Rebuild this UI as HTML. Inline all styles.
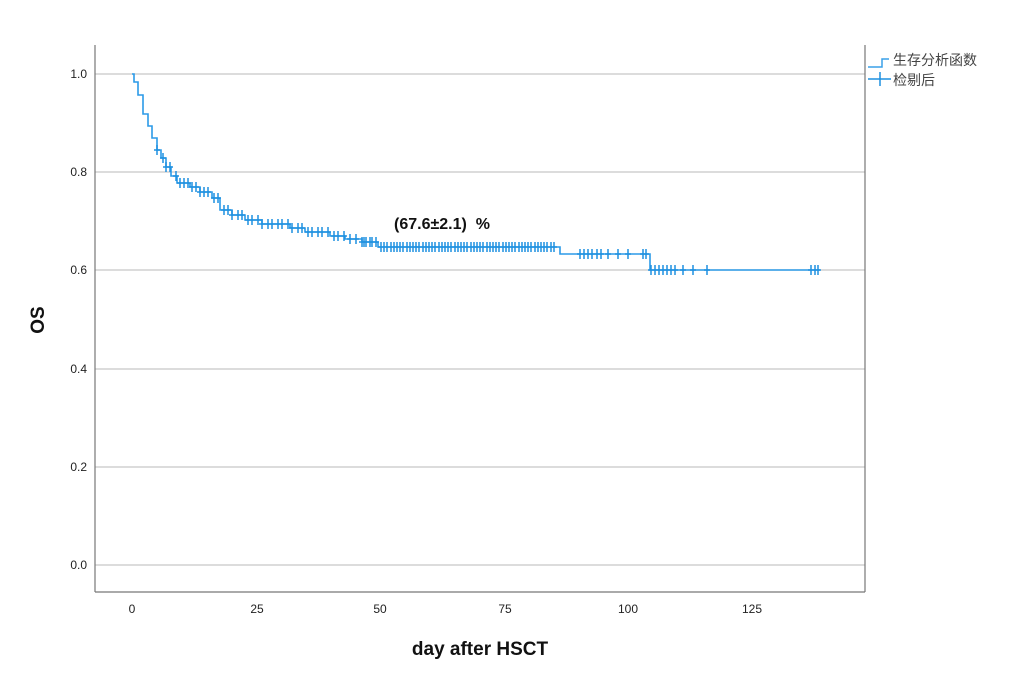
<!DOCTYPE html>
<html><head><meta charset="utf-8"><style>
body{margin:0;background:#fff;width:1024px;height:674px;overflow:hidden}
svg text{font-family:"Liberation Sans","Noto Sans CJK SC",sans-serif}
</style></head><body>
<svg id="s" width="1024" height="674" xmlns="http://www.w3.org/2000/svg">
<g stroke="#c8c8c8" stroke-width="1.3">
<line x1="95" y1="74" x2="865" y2="74"/><line x1="95" y1="172" x2="865" y2="172"/>
<line x1="95" y1="270" x2="865" y2="270"/><line x1="95" y1="369" x2="865" y2="369"/>
<line x1="95" y1="467" x2="865" y2="467"/><line x1="95" y1="565" x2="865" y2="565"/>
</g>
<g stroke="#777" stroke-width="1.2" fill="none">
<line x1="95" y1="45" x2="95" y2="592"/><line x1="95" y1="592" x2="865" y2="592"/><line x1="865" y1="45" x2="865" y2="592"/>
</g>
<g font-size="12" fill="#222" text-anchor="end">
<text x="87" y="78">1.0</text><text x="87" y="176">0.8</text><text x="87" y="274">0.6</text>
<text x="87" y="373">0.4</text><text x="87" y="471">0.2</text><text x="87" y="569">0.0</text>
</g>
<g font-size="12" fill="#222" text-anchor="middle">
<text x="132" y="613">0</text><text x="257" y="613">25</text><text x="380" y="613">50</text>
<text x="505" y="613">75</text><text x="628" y="613">100</text><text x="752" y="613">125</text>
</g>
<text x="480" y="655" font-size="19" font-weight="bold" text-anchor="middle" fill="#111">day after HSCT</text>
<text x="0" y="0" font-size="19" font-weight="bold" text-anchor="middle" fill="#111" transform="translate(44,320) rotate(-90)">OS</text>
<text x="394" y="229" font-size="16" font-weight="bold" fill="#111" xml:space="preserve">(67.6±2.1)  %</text>
<path d="M868 67H882V59H889" stroke="#3aa0e8" fill="none" stroke-width="1.5"/>
<path d="M868 79H891M880 72V86" stroke="#1e90e0" fill="none" stroke-width="1.5"/>
<text x="893" y="65" font-size="14" fill="#444">生存分析函数</text>
<text x="893" y="85" font-size="14" fill="#444">检剔后</text>
<g id="c"></g>
</svg>
<script>
var st=[[132,74],[134,82],[138,95],[143,114],[148,126],[152,138],[157,150],[161,158],[166,167],[171,176],[177,183],[190,187],[200,192],[212,198],[220,210],[232,215],[245,220],[262,224],[290,228],[305,232],[330,236],[345,239],[362,242],[378,247],[559,247],[560,254],[649,254],[650,270],[820,270]];
var d="M"+st[0][0]+" "+st[0][1];
for(var i=1;i<st.length;i++){d+="H"+st[i][0]+"V"+st[i][1];}
function yAt(x){var y=74;for(var i=0;i<st.length;i++){if(st[i][0]<=x)y=st[i][1];}return y;}
var t="";var xs=[157,163,166,170,176,180,184,188,192,196,200,204,208,214,218,224,228,232,238,242,248,252,258,262,268,272,278,282,288,292,298,302,308,312,318,322,328,334,338,344,350,356,362,364,366,370,372,376];
for(var x=381;x<=556;x+=3.2)xs.push(Math.round(x));
xs=xs.concat([580,584,588,592,597,601,608,618,628,643,646,651,655,659,663,667,671,675,683,693,707,811,815,818]);
xs.forEach(function(x){var y=yAt(x);t+="M"+(x-3)+" "+y+"H"+(x+3)+"M"+x+" "+(y-5)+"V"+(y+5);});
document.getElementById("c").innerHTML='<path d="'+d+'" stroke="#2b9ae8" stroke-width="1.6" fill="none"/><path d="'+t+'" stroke="#1e90e0" stroke-width="1.5" fill="none"/>';
</script>
</body></html>
